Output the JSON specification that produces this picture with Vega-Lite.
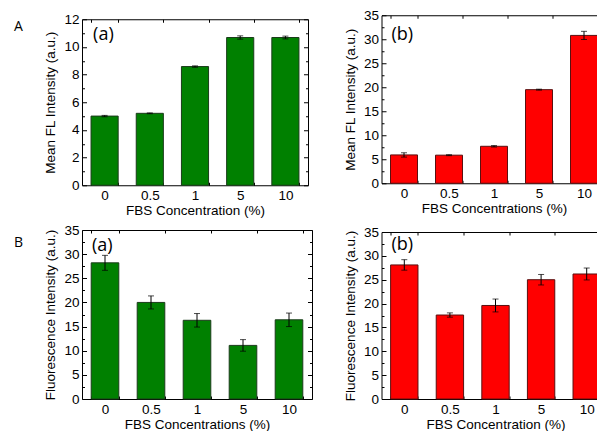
{
  "$schema": "https://vega.github.io/schema/vega-lite/v6.json",
  "padding": {"left": 14, "top": 8.25, "right": 0, "bottom": 0},
  "background": "white",
  "spacing": 29.5,
  "hconcat": [
    {
      "spacing": 5.75,
      "vconcat": [
        {
          "width": 226, "height": 170,
          "data": {"values": [
            {"c": "0", "v": 5.0, "e": 0.05},
            {"c": "0.5", "v": 5.2, "e": 0.03},
            {"c": "1", "v": 8.58, "e": 0.05},
            {"c": "5", "v": 10.68, "e": 0.12},
            {"c": "10", "v": 10.68, "e": 0.1}
          ]},
          "layer": [
            {
              "mark": {"type": "bar", "fill": "#008000", "stroke": "#1b3b1b", "strokeWidth": 1},
              "encoding": {
                "x": {"field": "c", "type": "nominal", "scale": {"domain": ["0", "0.5", "1", "5", "10"], "paddingInner": 0.4, "paddingOuter": 0.2}, "axis": {"orient": "bottom", "title": "FBS Concentration (%)"}},
                "y": {"field": "v", "type": "quantitative", "scale": {"domain": [0, 12], "nice": false, "range": [170, 4]}, "axis": {"orient": "left", "title": "Mean FL Intensity (a.u.)", "values": [0,1,2,3,4,5,6,7,8,9,10,11,12], "labelExpr": "datum.value % 2 == 0 ? datum.label : ''", "tickSize": {"condition": {"test": "datum.value % 2 != 0", "value": -2.5}, "value": -4.5}}}
              }
            },
            {
              "mark": {"type": "errorbar", "color": "black", "ticks": {"size": 6, "color": "black"}, "rule": {"color": "black"}},
              "encoding": {
                "x": {"field": "c", "type": "nominal", "axis": {"orient": "top", "labels": false, "offset": -4, "title": null}},
                "y": {"field": "v", "type": "quantitative", "axis": {"orient": "right", "labels": false, "title": null, "values": [0,1,2,3,4,5,6,7,8,9,10,11,12], "tickSize": {"condition": {"test": "datum.value % 2 != 0", "value": -2.5}, "value": -4.5}}},
                "yError": {"field": "e"}
              }
            },
            {
              "data": {"values": [{"t": "(a)"}]},
              "mark": {"type": "text", "align": "left", "baseline": "middle", "dx": -11.5, "dy": 16, "font": "Open Sans", "fontSize": 18, "color": "black"},
              "encoding": {"x": {"datum": "0", "type": "nominal", "axis": null}, "y": {"datum": 12, "type": "quantitative", "axis": null}, "text": {"field": "t"}}
            },
            {
              "data": {"values": [{"t": "A"}]},
              "mark": {"type": "text", "align": "left", "baseline": "middle", "dx": -90.5, "dy": 8, "font": "Open Sans", "fontSize": 14, "color": "black"},
              "encoding": {"x": {"datum": "0", "type": "nominal", "axis": null}, "y": {"datum": 12, "type": "quantitative", "axis": null}, "text": {"field": "t"}}
            }
          ],
          "resolve": {"axis": {"x": "independent", "y": "independent"}}
        },
        {
          "width": 230, "height": 169,
          "data": {"values": [
            {"c": "0", "v": 28.2, "e": 1.55},
            {"c": "0.5", "v": 20.0, "e": 1.35},
            {"c": "1", "v": 16.3, "e": 1.4},
            {"c": "5", "v": 11.1, "e": 1.2},
            {"c": "10", "v": 16.4, "e": 1.4}
          ]},
          "layer": [
            {
              "mark": {"type": "bar", "fill": "#008000", "stroke": "#1b3b1b", "strokeWidth": 1},
              "encoding": {
                "x": {"field": "c", "type": "nominal", "scale": {"domain": ["0", "0.5", "1", "5", "10"], "paddingInner": 0.4, "paddingOuter": 0.2}, "axis": {"orient": "bottom", "title": "FBS Concentrations (%)"}},
                "y": {"field": "v", "type": "quantitative", "scale": {"domain": [0, 35], "nice": false}, "axis": {"orient": "left", "title": "Fluorescence Intensity (a.u.)", "values": [0,2.5,5,7.5,10,12.5,15,17.5,20,22.5,25,27.5,30,32.5,35], "labelExpr": "datum.value % 5 == 0 ? datum.label : ''", "tickSize": {"condition": {"test": "datum.value % 5 != 0", "value": -2.5}, "value": -4.5}}}
              }
            },
            {
              "mark": {"type": "errorbar", "color": "black", "ticks": {"size": 6, "color": "black"}, "rule": {"color": "black"}},
              "encoding": {
                "x": {"field": "c", "type": "nominal", "axis": {"orient": "top", "labels": false, "title": null}},
                "y": {"field": "v", "type": "quantitative", "axis": {"orient": "right", "labels": false, "title": null, "values": [0,2.5,5,7.5,10,12.5,15,17.5,20,22.5,25,27.5,30,32.5,35], "tickSize": {"condition": {"test": "datum.value % 5 != 0", "value": -2.5}, "value": -4.5}}},
                "yError": {"field": "e"}
              }
            },
            {
              "data": {"values": [{"t": "(a)"}]},
              "mark": {"type": "text", "align": "left", "baseline": "middle", "dx": -13, "dy": 16, "font": "Open Sans", "fontSize": 18, "color": "black"},
              "encoding": {"x": {"datum": "0", "type": "nominal", "axis": null}, "y": {"datum": 35, "type": "quantitative", "axis": null}, "text": {"field": "t"}}
            },
            {
              "data": {"values": [{"t": "B"}]},
              "mark": {"type": "text", "align": "left", "baseline": "middle", "dx": -91, "dy": 13, "font": "Open Sans", "fontSize": 14, "color": "black"},
              "encoding": {"x": {"datum": "0", "type": "nominal", "axis": null}, "y": {"datum": 35, "type": "quantitative", "axis": null}, "text": {"field": "t"}}
            }
          ],
          "resolve": {"axis": {"x": "independent", "y": "independent"}}
        }
      ]
    },
    {
      "spacing": 9.75,
      "vconcat": [
        {
          "width": 225, "height": 168,
          "data": {"values": [
            {"c": "0", "v": 5.9, "e": 0.45},
            {"c": "0.5", "v": 5.85, "e": 0.1},
            {"c": "1", "v": 7.7, "e": 0.15},
            {"c": "5", "v": 19.5, "e": 0.1},
            {"c": "10", "v": 30.8, "e": 0.85}
          ]},
          "layer": [
            {
              "mark": {"type": "bar", "fill": "#ff0000", "stroke": "#5a1010", "strokeWidth": 1},
              "encoding": {
                "x": {"field": "c", "type": "nominal", "scale": {"domain": ["0", "0.5", "1", "5", "10"], "paddingInner": 0.4, "paddingOuter": 0.2}, "axis": {"orient": "bottom", "title": "FBS Concentrations (%)"}},
                "y": {"field": "v", "type": "quantitative", "scale": {"domain": [0, 35], "nice": false}, "axis": {"orient": "left", "title": "Mean FL Intensity (a.u.)", "values": [0,2.5,5,7.5,10,12.5,15,17.5,20,22.5,25,27.5,30,32.5,35], "labelExpr": "datum.value % 5 == 0 ? datum.label : ''", "tickSize": {"condition": {"test": "datum.value % 5 != 0", "value": -2.5}, "value": -4.5}}}
              }
            },
            {
              "mark": {"type": "errorbar", "color": "black", "ticks": {"size": 6, "color": "black"}, "rule": {"color": "black"}},
              "encoding": {
                "x": {"field": "c", "type": "nominal", "axis": {"orient": "top", "labels": false, "title": null}},
                "y": {"field": "v", "type": "quantitative", "axis": {"orient": "right", "labels": false, "title": null, "values": [0,2.5,5,7.5,10,12.5,15,17.5,20,22.5,25,27.5,30,32.5,35], "tickSize": {"condition": {"test": "datum.value % 5 != 0", "value": -2.5}, "value": -4.5}}},
                "yError": {"field": "e"}
              }
            },
            {
              "data": {"values": [{"t": "(b)"}]},
              "mark": {"type": "text", "align": "left", "baseline": "middle", "dx": -12.5, "dy": 19.5, "font": "Open Sans", "fontSize": 18, "color": "black"},
              "encoding": {"x": {"datum": "0", "type": "nominal", "axis": null}, "y": {"datum": 35, "type": "quantitative", "axis": null}, "text": {"field": "t"}}
            }
          ],
          "resolve": {"axis": {"x": "independent", "y": "independent"}}
        },
        {
          "width": 228, "height": 167,
          "data": {"values": [
            {"c": "0", "v": 28.1, "e": 1.1},
            {"c": "0.5", "v": 17.6, "e": 0.45},
            {"c": "1", "v": 19.6, "e": 1.35},
            {"c": "5", "v": 25.0, "e": 1.1},
            {"c": "10", "v": 26.2, "e": 1.25}
          ]},
          "layer": [
            {
              "mark": {"type": "bar", "fill": "#ff0000", "stroke": "#5a1010", "strokeWidth": 1},
              "encoding": {
                "x": {"field": "c", "type": "nominal", "scale": {"domain": ["0", "0.5", "1", "5", "10"], "paddingInner": 0.4, "paddingOuter": 0.2}, "axis": {"orient": "bottom", "title": "FBS Concentration (%)"}},
                "y": {"field": "v", "type": "quantitative", "scale": {"domain": [0, 35], "nice": false}, "axis": {"orient": "left", "title": "Fluorescence Intensity (a.u.)", "values": [0,2.5,5,7.5,10,12.5,15,17.5,20,22.5,25,27.5,30,32.5,35], "labelExpr": "datum.value % 5 == 0 ? datum.label : ''", "tickSize": {"condition": {"test": "datum.value % 5 != 0", "value": -2.5}, "value": -4.5}}}
              }
            },
            {
              "mark": {"type": "errorbar", "color": "black", "ticks": {"size": 6, "color": "black"}, "rule": {"color": "black"}},
              "encoding": {
                "x": {"field": "c", "type": "nominal", "axis": {"orient": "top", "labels": false, "title": null}},
                "y": {"field": "v", "type": "quantitative", "axis": {"orient": "right", "labels": false, "title": null, "values": [0,2.5,5,7.5,10,12.5,15,17.5,20,22.5,25,27.5,30,32.5,35], "tickSize": {"condition": {"test": "datum.value % 5 != 0", "value": -2.5}, "value": -4.5}}},
                "yError": {"field": "e"}
              }
            },
            {
              "data": {"values": [{"t": "(b)"}]},
              "mark": {"type": "text", "align": "left", "baseline": "middle", "dx": -12.8, "dy": 13, "font": "Open Sans", "fontSize": 18, "color": "black"},
              "encoding": {"x": {"datum": "0", "type": "nominal", "axis": null}, "y": {"datum": 35, "type": "quantitative", "axis": null}, "text": {"field": "t"}}
            }
          ],
          "resolve": {"axis": {"x": "independent", "y": "independent"}}
        }
      ]
    }
  ],
  "config": {
    "view": {"stroke": null},
    "axis": {
      "grid": false,
      "domainColor": "black",
      "tickColor": "black",
      "labelColor": "black",
      "titleColor": "black",
      "labelFont": "Liberation Sans",
      "titleFont": "Liberation Sans",
      "labelFontSize": 13.5,
      "titleFontSize": 13.5,
      "titleFontWeight": "normal",
      "domainWidth": 1,
      "tickWidth": 1
    },
    "axisX": {"tickBand": "extent", "tickSize": -3, "labelAngle": 0, "labelPadding": 6, "titlePadding": 1.5},
    "axisY": {"labelPadding": 7.5, "titlePadding": 6, "labelOverlap": false}
  }
}
